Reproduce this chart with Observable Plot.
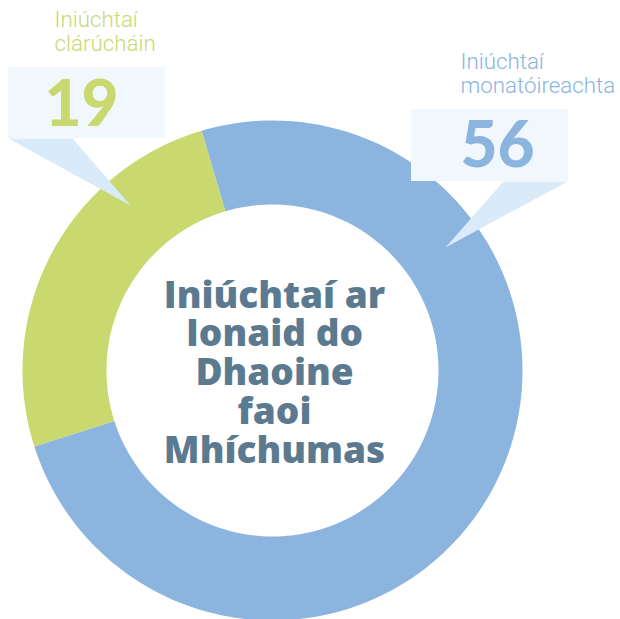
<!DOCTYPE html>
<html>
<head>
<meta charset="utf-8">
<script src="https://cdn.jsdelivr.net/npm/d3@7"></script>
<script src="https://cdn.jsdelivr.net/npm/@observablehq/plot@0.6"></script>
<style>
  html, body { margin: 0; padding: 0; background: #ffffff; }
  #chart svg { display: block; }
</style>
</head>
<body>
<div id="chart"></div>
<script>
// ---- data ----
const categories = ["Iniúchtaí monatóireachta", "Iniúchtaí clárúcháin"];
const values = [56, 19];
const sliceColors = ["#8bb4df", "#c9d96f"];
const labelLines = [["Iniúchtaí", "monatóireachta"], ["Iniúchtaí", "clárúcháin"]];
const centerTitle = ["Iniúchtaí ar", "Ionaid do", "Dhaoine", "faoi", "Mhíchumas"];

// ---- layout (pixels) ----
const W = 620, H = 619;
const cx = 272, cy = 370, rOuter = 250, rInner = 166;
const startDeg = -16.5;

const pie = d3.pie().sort(null).value(d => d.value)
  .startAngle(startDeg * Math.PI / 180)
  .endAngle(startDeg * Math.PI / 180 + 2 * Math.PI);
const arcs = pie(categories.map((c, i) => ({category: c, value: values[i], color: sliceColors[i]})));

// ring outline points for each slice (geometry of the annular sector)
const ringPts = [];
for (const a of arcs) {
  const n = 160;
  for (let k = 0; k <= n; k++) {
    const t = a.startAngle + (a.endAngle - a.startAngle) * k / n;
    ringPts.push({category: a.data.category, color: a.data.color, x: cx + rOuter * Math.sin(t), y: cy - rOuter * Math.cos(t)});
  }
  for (let k = n; k >= 0; k--) {
    const t = a.startAngle + (a.endAngle - a.startAngle) * k / n;
    ringPts.push({category: a.data.category, color: a.data.color, x: cx + rInner * Math.sin(t), y: cy - rInner * Math.cos(t)});
  }
}

// callouts
const boxes = [
  {category: categories[0], x1: 411, x2: 568, y1: 109, y2: 181},
  {category: categories[1], x1: 8, x2: 165, y1: 67, y2: 138}
];
const pointers = [
  {category: categories[0], x: 503, y: 181}, {category: categories[0], x: 567, y: 181}, {category: categories[0], x: 445, y: 247},
  {category: categories[1], x: 8, y: 138}, {category: categories[1], x: 72, y: 138}, {category: categories[1], x: 130, y: 205}
];
const numbers = [
  {category: categories[0], value: values[0], x: 497, y: 166, color: sliceColors[0]},
  {category: categories[1], value: values[1], x: 81, y: 125, color: sliceColors[1]}
];
const labels = [
  {text: labelLines[0].join("\n"), x: 460, y: 92, color: sliceColors[0]},
  {text: labelLines[1].join("\n"), x: 54, y: 50, color: sliceColors[1]}
];

const chart = Plot.plot({
  width: W,
  height: H,
  margin: 0,
  x: {domain: [0, W], range: [0, W], axis: null},
  y: {domain: [0, H], range: [0, H], axis: null},
  style: {background: "#ffffff"},
  marks: [
    Plot.line(ringPts, {x: "x", y: "y", z: "category", fill: d => d.color, stroke: null, curve: "linear-closed"}),
    Plot.line(pointers, {x: "x", y: "y", z: "category", fill: "#d9eaf8", stroke: null, curve: "linear-closed"}),
    Plot.rect(boxes, {x1: "x1", x2: "x2", y1: "y1", y2: "y2", fill: "#f1f8fd"}),
    Plot.text(numbers, {x: "x", y: "y", text: d => String(d.value), fill: d => d.color,
      fontSize: 64, fontWeight: 900, fontFamily: "Lato", textAnchor: "middle", lineAnchor: "bottom"}),
    Plot.text(labels, {x: "x", y: "y", text: "text", fill: d => d.color,
      fontSize: 22.3, fontWeight: 300, fontFamily: "Roboto", textAnchor: "start", lineAnchor: "bottom", lineHeight: 1.06}),
    Plot.text([centerTitle.join("\n")], {x: cx + 2, y: 462, text: d => d, fill: "#5c7a8f",
      fontSize: 37, fontWeight: 800, fontFamily: "Open Sans", textAnchor: "middle", lineAnchor: "bottom", lineHeight: 1.047})
  ]
});
document.getElementById("chart").append(chart);
</script>
</body>
</html>
